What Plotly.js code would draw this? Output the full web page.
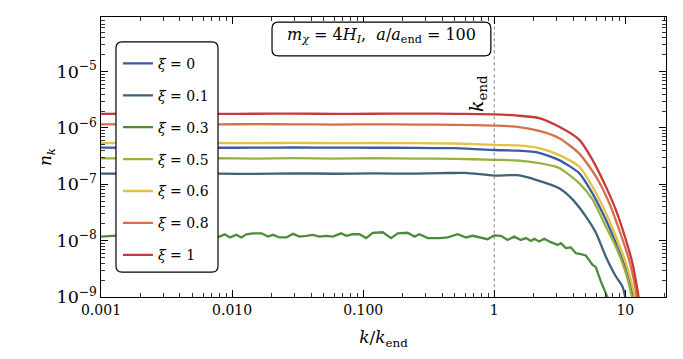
<!DOCTYPE html>
<html>
<head>
<meta charset="utf-8">
<script src="https://cdn.plot.ly/plotly-3.0.1.min.js"></script>
<style>
  html, body { margin: 0; padding: 0; background: #fff; }
  #myDiv { width: 683px; height: 359px; }
</style>
</head>
<body>
<div id="myDiv"></div>
<script>
// spectra n_k vs k/k_end
var kEnd = 1;

var k0 = [0.001, 0.002, 0.004, 0.008, 0.015, 0.03, 0.06, 0.12, 0.25, 0.5, 1, 1.5, 2.2, 3.13, 4.44, 5.61, 7.1, 8.45, 10.07, 11.46, 11.8];
var n0 = [4.47e-7, 4.45e-7, 4.48e-7, 4.46e-7, 4.47e-7, 4.5e-7, 4.47e-7, 4.46e-7, 4.45e-7, 4.38e-7, 4.07e-7, 3.95e-7, 3.63e-7, 2.69e-7, 1.58e-7, 6.9e-8, 2.34e-8, 9.1e-9, 3.1e-9, 1.02e-9, 7e-10];

var k01 = [0.001, 0.002, 0.004, 0.008, 0.015, 0.03, 0.06, 0.12, 0.25, 0.4, 0.6, 1, 1.5, 2.08, 3.13, 3.95, 4.99, 5.96, 7.1, 8.45, 9.48, 9.95, 10.1];
var n01 = [1.55e-7, 1.54e-7, 1.56e-7, 1.55e-7, 1.53e-7, 1.57e-7, 1.54e-7, 1.56e-7, 1.55e-7, 1.58e-7, 1.6e-7, 1.43e-7, 1.45e-7, 1.2e-7, 8.5e-8, 5.4e-8, 2.7e-8, 1.38e-8, 5.2e-9, 2.34e-9, 1.55e-9, 1.02e-9, 7e-10];

var k03 = [0.001, 0.0015, 0.002, 0.003, 0.004, 0.005, 0.006, 0.00675, 0.00805, 0.00879, 0.0096, 0.01077, 0.01177, 0.01285, 0.01444, 0.01672, 0.01879, 0.02051, 0.02305, 0.0259, 0.02911, 0.03271, 0.03676, 0.0413, 0.04642, 0.05216, 0.05861, 0.0679, 0.07421, 0.0834, 0.09372, 0.1053, 0.1184, 0.141, 0.1632, 0.1834, 0.2186, 0.2457, 0.2685, 0.3107, 0.3811, 0.441, 0.5255, 0.6082, 0.6835, 0.7912, 0.8891, 1.0, 1.125, 1.264, 1.42, 1.596, 1.743, 1.903, 2.017, 2.202, 2.404, 2.702, 3.036, 3.221, 3.516, 3.838, 4.19, 4.573, 4.992, 5.609, 5.952, 6.499, 7.301, 7.6];
var n03 = [1.18e-8, 1.25e-8, 1.15e-8, 1.28e-8, 1.17e-8, 1.24e-8, 1.14e-8, 1.2e-8, 1.18e-8, 1.3e-8, 1.14e-8, 1.27e-8, 1.14e-8, 1.3e-8, 1.35e-8, 1.35e-8, 1.18e-8, 1.27e-8, 1.14e-8, 1.14e-8, 1.32e-8, 1.18e-8, 1.22e-8, 1.27e-8, 1.18e-8, 1.22e-8, 1.18e-8, 1.35e-8, 1.22e-8, 1.3e-8, 1.3e-8, 1.11e-8, 1.38e-8, 1.41e-8, 1.11e-8, 1.35e-8, 1.38e-8, 1.18e-8, 1.3e-8, 1.11e-8, 1.11e-8, 1.14e-8, 1.3e-8, 1.14e-8, 1.22e-8, 1.11e-8, 1.06e-8, 1.24e-8, 1.22e-8, 1.03e-8, 1.18e-8, 1.03e-8, 1.11e-8, 9.9e-9, 1.08e-8, 9.65e-9, 1.08e-8, 9.4e-9, 8.4e-9, 9.0e-9, 7.4e-9, 7.6e-9, 6.0e-9, 5.75e-9, 5.45e-9, 3.73e-9, 3.39e-9, 1.89e-9, 1.03e-9, 8e-10];

var k05 = [0.001, 0.002, 0.004, 0.008, 0.015, 0.03, 0.06, 0.12, 0.25, 0.5, 1, 1.5, 2.2, 3.13, 4.44, 5.61, 7.1, 8.45, 10.07, 11.19, 11.5];
var n05 = [2.88e-7, 2.92e-7, 2.85e-7, 2.9e-7, 2.86e-7, 2.91e-7, 2.87e-7, 2.9e-7, 2.86e-7, 2.84e-7, 2.72e-7, 2.65e-7, 2.37e-7, 1.95e-7, 1.05e-7, 5.4e-8, 1.78e-8, 7.9e-9, 2.7e-9, 1.02e-9, 7e-10];

var k06 = [0.001, 0.002, 0.004, 0.008, 0.015, 0.03, 0.06, 0.12, 0.25, 0.5, 1, 1.5, 2.2, 3.13, 4.44, 5.61, 7.1, 8.45, 10.07, 11.64, 12.0];
var n06 = [5.4e-7, 5.42e-7, 5.38e-7, 5.41e-7, 5.4e-7, 5.43e-7, 5.39e-7, 5.41e-7, 5.38e-7, 5.3e-7, 5.0e-7, 4.9e-7, 4.4e-7, 3.3e-7, 2.07e-7, 9.1e-8, 3.1e-8, 1.2e-8, 4.1e-9, 1.17e-9, 8e-10];

var k08 = [0.001, 0.002, 0.004, 0.008, 0.015, 0.03, 0.06, 0.12, 0.25, 0.5, 1, 1.5, 2.2, 3.13, 4.44, 5.96, 7.52, 8.95, 10.67, 12.0, 12.4];
var n08 = [1.16e-6, 1.17e-6, 1.15e-6, 1.16e-6, 1.17e-6, 1.16e-6, 1.15e-6, 1.16e-6, 1.15e-6, 1.14e-6, 1.1e-6, 1.05e-6, 8.9e-7, 6.6e-7, 3.55e-7, 1.38e-7, 4.7e-8, 1.58e-8, 4.6e-9, 1.35e-9, 8e-10];

var k1 = [0.001, 0.002, 0.004, 0.008, 0.015, 0.03, 0.06, 0.12, 0.25, 0.5, 1, 1.5, 2.2, 3.13, 4.44, 5.61, 7.1, 8.45, 10.07, 11.3, 12.36, 12.75];
var n1 = [1.78e-6, 1.79e-6, 1.77e-6, 1.78e-6, 1.79e-6, 1.8e-6, 1.78e-6, 1.79e-6, 1.8e-6, 1.78e-6, 1.75e-6, 1.66e-6, 1.5e-6, 1.05e-6, 6.2e-7, 2.72e-7, 9.1e-8, 3.55e-8, 1.05e-8, 4.1e-9, 1.35e-9, 8.5e-10];

var names = ['<i>ξ</i> = 0', '<i>ξ</i> = 0.1', '<i>ξ</i> = 0.3', '<i>ξ</i> = 0.5', '<i>ξ</i> = 0.6', '<i>ξ</i> = 0.8', '<i>ξ</i> = 1'];
var colors = ['#3a59a6', '#3e6377', '#4d8a3b', '#9bb23a', '#e5c043', '#d6704a', '#c73a3a'];
var xs = [k0, k01, k03, k05, k06, k08, k1];
var ys = [n0, n01, n03, n05, n06, n08, n1];

var data = [];
for (var i = 0; i < xs.length; i++) {
  data.push({
    x: xs[i],
    y: ys[i],
    name: names[i],
    legendgroup: 'g' + i,
    type: 'scatter',
    mode: 'lines',
    line: {color: colors[i], width: 2.3, shape: i == 2 ? 'linear' : 'spline', smoothing: 0.6}
  });
}
// k_end marker
data.push({
  x: [kEnd, kEnd],
  y: [1e-10, 1e-3],
  mode: 'lines',
  showlegend: false,
  hoverinfo: 'skip',
  line: {color: '#808080', width: 1, dash: '3px,3px'}
});

var serif = '"DejaVu Serif", "Liberation Serif", serif';

function roundBox(x0, y0, x1, y1, rx, ry) {
  return 'M' + (x0 + rx) + ',' + y1 + ' L' + (x1 - rx) + ',' + y1 +
    ' Q' + x1 + ',' + y1 + ' ' + x1 + ',' + (y1 - ry) +
    ' L' + x1 + ',' + (y0 + ry) + ' Q' + x1 + ',' + y0 + ' ' + (x1 - rx) + ',' + y0 +
    ' L' + (x0 + rx) + ',' + y0 + ' Q' + x0 + ',' + y0 + ' ' + x0 + ',' + (y0 + ry) +
    ' L' + x0 + ',' + (y1 - ry) + ' Q' + x0 + ',' + y1 + ' ' + (x0 + rx) + ',' + y1 + ' Z';
}

var layout = {
  width: 683,
  height: 359,
  margin: {l: 101, r: 17, t: 17, b: 62},
  paper_bgcolor: '#fff',
  plot_bgcolor: '#fff',
  font: {family: serif, size: 14, color: '#000'},
  showlegend: true,
  legend: {
    x: 0.03, y: 0.89, xanchor: 'left', yanchor: 'top',
    bgcolor: 'rgba(0,0,0,0)', borderwidth: 0,
    traceorder: 'grouped', tracegroupgap: 10.7,
    font: {family: serif, size: 14}
  },
  xaxis: {
    type: 'log',
    range: [-3, 1.31],
    tickmode: 'array',
    tickvals: [0.001, 0.01, 0.1, 1, 10],
    ticktext: ['0.001', '0.010', '0.100', '1', '10'],
    ticks: 'inside', ticklen: 7, tickwidth: 1, tickcolor: '#000',
    minor: {ticks: 'inside', ticklen: 4, tickwidth: 0.8, tickcolor: '#000', dtick: 'D1'},
    showline: true, linecolor: '#000', linewidth: 1.3, mirror: 'allticks',
    showgrid: false, zeroline: false,
    tickfont: {family: serif, size: 14},
    title: {text: '<i>k</i>/<i>k</i><sub>end</sub>', font: {family: serif, size: 17}, standoff: 14}
  },
  yaxis: {
    type: 'log',
    range: [-9, -4.03],
    dtick: 1,
    exponentformat: 'power',
    ticks: 'inside', ticklen: 7, tickwidth: 1, tickcolor: '#000',
    minor: {ticks: 'inside', ticklen: 4, tickwidth: 0.8, tickcolor: '#000', dtick: 'D1'},
    showline: true, linecolor: '#000', linewidth: 1.3, mirror: 'allticks',
    showgrid: false, zeroline: false,
    tickfont: {family: serif, size: 14},
    title: {text: '<i>n</i><sub><i>k</i></sub>', font: {family: serif, size: 17}, standoff: 0}
  },
  shapes: [
    {type: 'path', xref: 'paper', yref: 'paper', layer: 'above',
     path: roundBox(0.0265, 0.089, 0.2071, 0.911, 0.011, 0.022),
     fillcolor: '#fff', line: {color: '#000', width: 1.2}},
    {type: 'path', xref: 'paper', yref: 'paper', layer: 'above',
     path: roundBox(0.3027, 0.861, 0.690, 0.982, 0.011, 0.022),
     fillcolor: '#fff', line: {color: '#000', width: 1.2}}
  ],
  annotations: [
    {xref: 'paper', yref: 'paper', x: 0.4965, y: 0.935, yanchor: 'middle', showarrow: false,
     text: '<i>m</i><sub><i>χ</i></sub> = 4<i>H</i><sub><i>I</i></sub>,  <i>a</i>/<i>a</i><sub>end</sub> = 100',
     font: {family: serif, size: 16}},
    {xref: 'paper', yref: 'paper', x: 0.692, y: 0.80, showarrow: false, textangle: -90,
     text: '<i>k</i><sub>end</sub>', font: {family: serif, size: 19}}
  ]
};

Plotly.newPlot('myDiv', data, layout, {staticPlot: true});
</script>
</body>
</html>
